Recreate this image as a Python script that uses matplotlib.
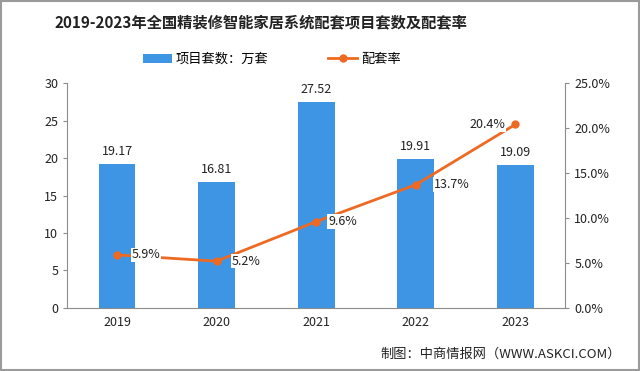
import matplotlib.pyplot as plt
import numpy as np
from matplotlib.patches import Rectangle

plt.rcParams['font.family'] = ['Noto Sans CJK SC', 'DejaVu Sans']

years = ['2019', '2020', '2021', '2022', '2023']
projects = [19.17, 16.81, 27.52, 19.91, 19.09]
rate = [5.9, 5.2, 9.6, 13.7, 20.4]

bar_color = '#3D95E4'
line_color = '#EE6A23'
axis_color = '#8C8C8C'

fig = plt.figure(figsize=(6.4, 3.71), dpi=100)
ax = fig.add_axes([0.105, 0.170, 0.778, 0.606])
x = np.arange(len(years))
bars = ax.bar(x, projects, width=0.37, color=bar_color, label='项目套数：万套', zorder=2)
ax.set_ylim(0, 30)
ax.set_xlim(-0.5, 4.5)
ax.set_yticks(range(0, 31, 5))
ax.set_xticks(x)
ax.set_xticklabels(years)
for s in ['top', 'right']:
    ax.spines[s].set_visible(False)
for s in ['left', 'bottom']:
    ax.spines[s].set_color(axis_color)
ax.tick_params(axis='y', colors=axis_color, labelcolor='#222222', labelsize=9, length=3)
ax.tick_params(axis='x', length=0, labelcolor='#222222', labelsize=9, pad=6)
for xi, v in zip(x, projects):
    ax.text(xi, v + 0.8, f'{v:.2f}', ha='center', va='bottom', fontsize=9, color='#222222')

ax2 = ax.twinx()
ax2.plot(x, rate, color=line_color, lw=2, marker='o', ms=5, label='配套率', zorder=3)
ax2.set_ylim(0, 25)
ax2.set_yticks(np.arange(0, 26, 5))
ax2.set_yticklabels([f'{v:.1f}%' for v in np.arange(0, 26, 5)])
for s in ['top', 'left', 'bottom']:
    ax2.spines[s].set_visible(False)
ax2.spines['right'].set_color(axis_color)
ax2.tick_params(axis='y', colors=axis_color, labelcolor='#222222', labelsize=9, length=3)

offsets = [(0.15, 0.0, 'left'), (0.15, 0.0, 'left'), (0.12, 0.0, 'left'),
           (0.18, 0.0, 'left'), (-0.1, 0.0, 'right')]
for xi, v, (dx, dy, ha) in zip(x, rate, offsets):
    ax2.text(xi + dx, v + dy, f'{v}%', ha=ha, va='center', fontsize=9, color='#222222',
             bbox=dict(facecolor='white', edgecolor='none', pad=0.5), zorder=4)

fig.text(0.408, 0.94, '2019-2023年全国精装修智能家居系统配套项目套数及配套率',
         ha='center', va='center', fontsize=11, fontweight='bold', color='#222222')

h1, l1 = ax.get_legend_handles_labels()
h2, l2 = ax2.get_legend_handles_labels()
fig.legend(h1 + h2, l1 + l2, loc='center', bbox_to_anchor=(0.425, 0.84), ncol=2,
           frameon=False, fontsize=9.5, handlelength=2.2, columnspacing=4.5, handletextpad=0.3)

fig.text(0.97, 0.045, '制图：中商情报网（WWW.ASKCI.COM）', ha='right', va='center',
         fontsize=9.5, color='#222222')

fig.patches.append(Rectangle((0.002, 0.003), 0.996, 0.994, transform=fig.transFigure,
                             fill=False, edgecolor='#9A9A9A', lw=1.5))

fig.savefig('out.png', dpi=100)
